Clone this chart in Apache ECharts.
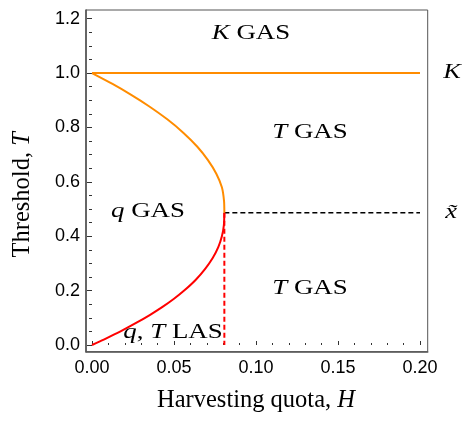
<!DOCTYPE html>
<html><head><meta charset="utf-8">
<script src="https://cdn.jsdelivr.net/npm/echarts@6/dist/echarts.min.js"></script>
<style>html,body{margin:0;padding:0;background:#fff}#c{width:464px;height:421px}</style>
</head><body><div id="c"></div>
<script>
// ---- data ----
const xTicks = [0, 0.05, 0.10, 0.15, 0.20];
const yTicks = [0, 0.2, 0.4, 0.6, 0.8, 1.0, 1.2];
// lower (red) branch: threshold T and harvesting quota H
const lowerT = [0, 0.02, 0.05, 0.08, 0.11, 0.14, 0.17, 0.20, 0.24, 0.28, 0.32, 0.36, 0.40, 0.44, 0.4866];
const lowerH = [0, 0.0072, 0.0174, 0.0266, 0.0352, 0.0430, 0.0500, 0.0562, 0.0633, 0.0690, 0.0736, 0.0770, 0.0792, 0.0804, 0.0807];
// upper (orange) branch
const upperT = [0.4866, 0.53, 0.58, 0.63, 0.68, 0.73, 0.78, 0.83, 0.88, 0.92, 0.96, 1.0];
const upperH = [0.0807, 0.0805, 0.0792, 0.0758, 0.0707, 0.0641, 0.0558, 0.0459, 0.0343, 0.0239, 0.0125, 0];
// carrying capacity line K
const kH = [0, 0.2];
const kT = [1, 1];
// x-tilde dashed line and critical quota dashed line
const xtH = [0.0807, 0.2];
const xtT = [0.4866, 0.4866];
const critH = [0.0807, 0.0807];
const critT = [0.4866, 0];
// texts
const xTitle = 'Harvesting quota, ';
const xTitleVar = 'H';
const yTitle = 'Threshold, ';
const yTitleVar = 'T';
const regionLabels = ['{i|K} GAS', '{i|T} GAS', '{i|q} GAS', '{i|T} GAS', '{i|q}, {i|T} LAS'];
const sideLabels = ['{i|K}', '{i|x\u0303}'];

const pairs = (xs, ys) => xs.map((x, i) => [x, ys[i]]);

const serif = 'Liberation Serif';
const richI = (size) => ({ i: { fontStyle: 'italic', fontFamily: serif, fontSize: size, fill: '#000', color: '#000' } });

// label placement (pixels)
const regionPos = [[251, 33], [310, 132], [148, 211], [310, 288], [173, 332]];
const sidePos = [[452, 72], [451, 212]];

const graphics = [];
regionLabels.forEach((t, i) => {
  graphics.push({
    type: 'text', x: regionPos[i][0], y: regionPos[i][1], scaleX: 1.25, z: 100,
    style: { text: t, fontFamily: serif, fontSize: 21.5, fill: '#000', align: 'center', verticalAlign: 'middle', rich: richI(21.5) }
  });
});
sideLabels.forEach((t, i) => {
  graphics.push({
    type: 'text', x: sidePos[i][0], y: sidePos[i][1], scaleX: 1.2, z: 100,
    style: { text: t, fontFamily: serif, fontSize: 22, fill: '#000', align: 'center', verticalAlign: 'middle', rich: richI(22) }
  });
});

const chart = echarts.init(document.getElementById('c'), null, { renderer: 'canvas' });
const tickFont = { fontFamily: 'Liberation Sans', fontSize: 18, color: '#000' };
const titleSize = 24.5;
chart.setOption({
  animation: false,
  backgroundColor: '#fff',
  grid: [
    { left: 92, right: 44, top: 18.7, bottom: 76, containLabel: false },
    { left: 86, right: 36.3, top: 10, bottom: 69.3, show: true, borderColor: '#555', borderWidth: 1, backgroundColor: 'transparent' }
  ],
  xAxis: [
    {
      type: 'value', gridIndex: 0, min: 0, max: 0.2, interval: 0.05, offset: 6.7,
      axisLine: { show: false },
      axisTick: { show: true, inside: true, length: 4, lineStyle: { color: '#333', width: 1 } },
      minorTick: { show: true, splitNumber: 5, length: 2, lineStyle: { color: '#333', width: 1 } },
      splitLine: { show: false },
      axisLabel: { ...tickFont, margin: 7, formatter: v => v.toFixed(2) },
      name: '{a|' + xTitle + '}{i|' + xTitleVar + '}', nameLocation: 'middle', nameGap: 36,
      nameTextStyle: { fontFamily: serif, fontSize: titleSize, color: '#000', rich: { a: { fontFamily: serif, fontSize: titleSize }, i: { fontFamily: serif, fontSize: titleSize, fontStyle: 'italic' } } }
    },
    { type: 'value', gridIndex: 1, min: 0, max: 1, axisLine: { show: true, lineStyle: { color: '#555', width: 1.6 } }, axisTick: { show: false }, axisLabel: { show: false }, splitLine: { show: false } }
  ],
  yAxis: [
    {
      type: 'value', gridIndex: 0, min: 0, max: 1.2, interval: 0.2, offset: 6,
      axisLine: { show: false },
      axisTick: { show: true, inside: false, length: 5, lineStyle: { color: '#333', width: 1 } },
      minorTick: { show: true, splitNumber: 4, length: 3, lineStyle: { color: '#333', width: 1 } },
      splitLine: { show: false },
      axisLabel: { ...tickFont, margin: 6, formatter: v => v.toFixed(1) },
      name: '{a|' + yTitle + '}{i|' + yTitleVar + '}{s|}', nameLocation: 'middle', nameGap: 51,
      nameTextStyle: { fontFamily: serif, fontSize: titleSize, color: '#000', rich: { a: { fontFamily: serif, fontSize: titleSize }, i: { fontFamily: serif, fontSize: titleSize, fontStyle: 'italic' }, s: { width: 26, fontSize: titleSize } } }
    },
    { type: 'value', gridIndex: 1, min: 0, max: 1, axisLine: { show: true, lineStyle: { color: '#555', width: 1.6 } }, axisTick: { show: false }, axisLabel: { show: false }, splitLine: { show: false } }
  ],
  series: [
    { type: 'line', xAxisIndex: 0, yAxisIndex: 0, data: pairs(kH, kT), showSymbol: false, symbol: 'none', lineStyle: { color: '#FF8C00', width: 2 }, z: 3 },
    { type: 'line', xAxisIndex: 0, yAxisIndex: 0, data: pairs(xtH, xtT), symbol: 'none', lineStyle: { color: '#000', width: 1.5, type: [5, 3] }, z: 2 },
    { type: 'line', xAxisIndex: 0, yAxisIndex: 0, data: pairs(critH, critT), symbol: 'none', lineStyle: { color: '#FF0000', width: 2, type: [5, 3] }, z: 2 },
    { type: 'line', xAxisIndex: 0, yAxisIndex: 0, data: pairs(lowerH, lowerT), symbol: 'none', smooth: 0.25, lineStyle: { color: '#FF0000', width: 2 }, z: 4 },
    { type: 'line', xAxisIndex: 0, yAxisIndex: 0, data: pairs(upperH, upperT), symbol: 'none', smooth: 0.25, lineStyle: { color: '#FF8C00', width: 2 }, z: 4 }
  ],
  graphic: graphics
});
</script></body></html>
